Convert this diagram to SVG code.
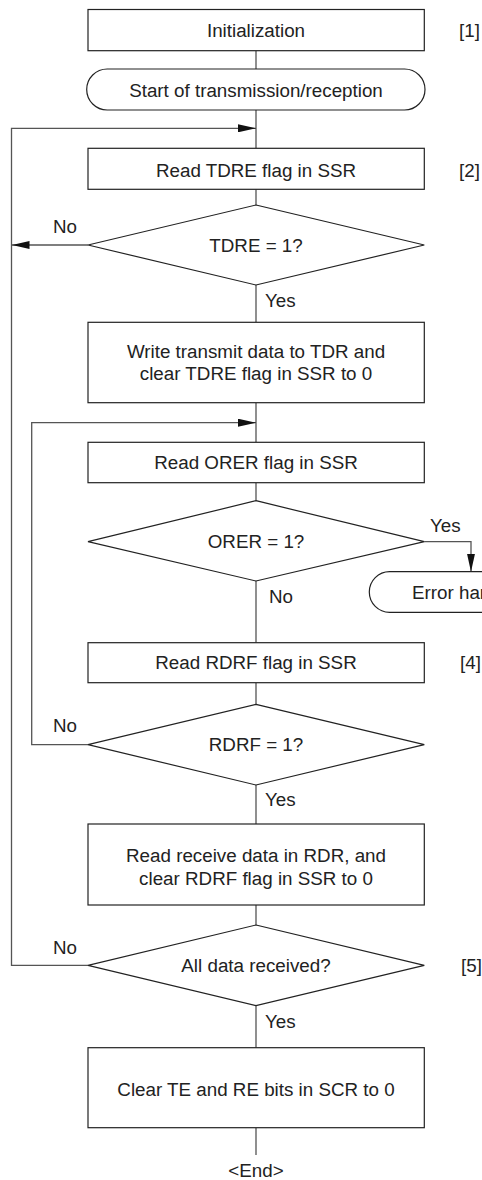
<svg xmlns="http://www.w3.org/2000/svg" width="482" height="1180" viewBox="0 0 482 1180">
<style>
text{font-family:"Liberation Sans",Arial,sans-serif;font-size:18.8px;fill:#222}
.c{text-anchor:middle}
.box{fill:#fff;stroke:#222;stroke-width:1.2}
.ln{fill:none;stroke:#555;stroke-width:1.3}
</style>
<defs>
<marker id="ah" markerUnits="userSpaceOnUse" markerWidth="18" markerHeight="8" refX="18" refY="4" orient="auto">
<path d="M0,0 L18,4 L0,8 z" fill="#111"/>
</marker>
</defs>
<rect width="482" height="1180" fill="#fff"/>
<g id="connectors">
<path class="ln" d="M256,50.7 V69 M256,110 V148.3 M256,189.3 V205 M256,285 V322.3 M256,402.7 V442.3 M256,482.7 V500.7 M256,581 V642.7 M256,682.7 V704.3 M256,785 V824 M256,905 V925 M256,1005.7 V1047.7 M256,1127.7 V1155"/>
<path class="ln" d="M88,965.3 H11.5 V128.3 H256" marker-end="url(#ah)"/>
<path class="ln" d="M88,245 H11.5" marker-end="url(#ah)"/>
<path class="ln" d="M88,744.6 H31.7 V422.7 H256" marker-end="url(#ah)"/>
<path class="ln" d="M424.3,541.7 H471 V571.7" marker-end="url(#ah)"/>
<text x="53" y="233.3">No</text>
<text x="265" y="306.6">Yes</text>
<text x="430" y="531.6">Yes</text>
<text x="269" y="603.3">No</text>
<text x="53" y="732.3">No</text>
<text x="265" y="806">Yes</text>
<text x="53" y="954">No</text>
<text x="265" y="1028.3">Yes</text>
</g>
<g id="init">
<rect class="box" x="88" y="9.5" width="336.3" height="41.2"/>
<text class="c" x="256" y="36.6">Initialization</text>
<text x="459" y="36.6">[1]</text>
</g>
<g id="start">
<rect class="box" x="86.7" y="69" width="338.3" height="41" rx="20.5" ry="20.5"/>
<text class="c" x="256" y="96.6">Start of transmission/reception</text>
</g>
<g id="readTDRE">
<rect class="box" x="88" y="148.3" width="336.3" height="41"/>
<text class="c" x="256" y="176.6">Read TDRE flag in SSR</text>
<text x="459" y="176.6">[2]</text>
</g>
<g id="tdreDec">
<polygon class="box" points="256,205 424.3,245 256,285 88,245"/>
<text class="c" x="256" y="251.6">TDRE = 1?</text>
</g>
<g id="writeTDR">
<rect class="box" x="88" y="322.3" width="336.3" height="80.4"/>
<text class="c" x="256" y="357.6">Write transmit data to TDR and</text>
<text class="c" x="256" y="380">clear TDRE flag in SSR to 0</text>
</g>
<g id="readORER">
<rect class="box" x="88" y="442.3" width="336.3" height="40.4"/>
<text class="c" x="256" y="469.3">Read ORER flag in SSR</text>
</g>
<g id="orerDec">
<polygon class="box" points="256,500.7 424.3,541.7 256,581 88,541.7"/>
<text class="c" x="256" y="548.3">ORER = 1?</text>
</g>
<g id="errorHandling">
<rect class="box" x="369.3" y="571.7" width="200" height="40.6" rx="20.3" ry="20.3"/>
<text x="412" y="599.3">Error handling</text>
</g>
<g id="readRDRF">
<rect class="box" x="88" y="642.7" width="336.3" height="40"/>
<text class="c" x="256" y="669.3">Read RDRF flag in SSR</text>
<text x="460" y="669.3">[4]</text>
</g>
<g id="rdrfDec">
<polygon class="box" points="256,704.3 424.3,744.6 256,785 88,744.6"/>
<text class="c" x="256" y="751.2">RDRF = 1?</text>
</g>
<g id="readRDR">
<rect class="box" x="88" y="824" width="336.3" height="81"/>
<text class="c" x="256" y="862.3">Read receive data in RDR, and</text>
<text class="c" x="256" y="885">clear RDRF flag in SSR to 0</text>
</g>
<g id="allDec">
<polygon class="box" points="256,925 424.3,965.3 256,1005.7 88,965.3"/>
<text class="c" x="256" y="972">All data received?</text>
<text x="461" y="972">[5]</text>
</g>
<g id="clearTERE">
<rect class="box" x="88" y="1047.7" width="336.3" height="80"/>
<text class="c" x="256" y="1095.6">Clear TE and RE bits in SCR to 0</text>
</g>
<g id="end">
<text class="c" x="256" y="1177.3">&lt;End&gt;</text>
</g>
</svg>
